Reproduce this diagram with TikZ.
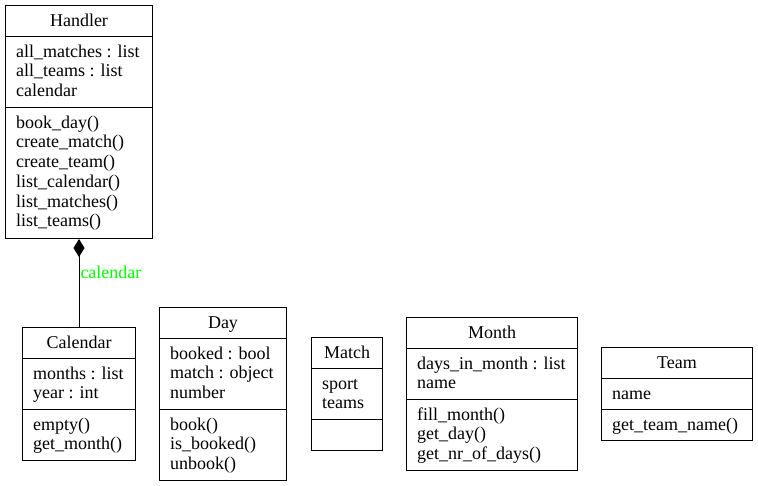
\documentclass[tikz,border=0pt]{standalone}
\usepackage{fontspec}
\setmainfont{Liberation Serif}
\usetikzlibrary{arrows.meta}
\definecolor{lblgreen}{HTML}{00FF00}
\tikzset{
  classbox/.style={draw, line width=1pt, inner sep=0pt, anchor=north west},
  classtext/.style={inner sep=0pt, anchor=north west, align=left,
    font=\fontsize{18}{19.7}\selectfont},
  classtitle/.style={inner sep=0pt, anchor=base, font=\fontsize{18}{20}\selectfont},
  sepline/.style={line width=1pt},
  assoc/.style={line width=1pt},
  assoclabel/.style={inner sep=1pt, anchor=west, text=lblgreen, font=\fontsize{18}{20}\selectfont}
}
% #1 name, #2 x, #3 y, #4 width, #5 title, #6 attrs, #7 n attrs, #8 methods, #9 n methods
\newcommand\umlclass[9]{%
  \pgfmathsetmacro\clsHa{max(20*#7+11,31)}%
  \pgfmathsetmacro\clsHm{max(20*#9+11,31)}%
  \pgfmathsetmacro\clsH{31+\clsHa+\clsHm}%
  \pgfmathsetmacro\clsSb{31+\clsHa}%
  \node[classbox, minimum width=#4pt, minimum height=\clsH pt] (#1) at (#2,#3) {};
  \node[classtitle] (#1-title) at ([yshift=-21.5pt]#1.north) {#5};
  \draw[sepline] ([yshift=-31pt]#1.north west) -- ([yshift=-31pt]#1.north east);
  \draw[sepline] ([yshift=-\clsSb pt]#1.north west) -- ([yshift=-\clsSb pt]#1.north east);
  \node[classtext] (#1-attr) at ([xshift=11pt,yshift=-38pt]#1.north west) {\rule{0pt}{14pt}#6};
  \node[classtext] (#1-meth) at ([xshift=11pt,yshift=-\clsSb pt-7pt]#1.north west) {\rule{0pt}{14pt}#8};
}
\begin{document}
\begin{tikzpicture}[x=1pt,y=-1pt]
\useasboundingbox (0,0) rectangle (758,485);
\umlclass{handler}{5}{5}{147}{Handler}%
  {all\_matches : list\\all\_teams : list\\calendar}{3}%
  {book\_day()\\create\_match()\\create\_team()\\list\_calendar()\\list\_matches()\\list\_teams()}{6}
\umlclass{calendar}{22}{327}{113}{Calendar}%
  {months : list\\year : int}{2}%
  {empty()\\get\_month()}{2}
\umlclass{day}{159}{307}{127}{Day}%
  {booked : bool\\match : object\\number}{3}%
  {book()\\is\_booked()\\unbook()}{3}
\umlclass{match}{311}{337}{71}{Match}%
  {sport\\teams}{2}%
  {}{0}
\umlclass{month}{406}{317}{171}{Month}%
  {days\_in\_month : list\\name}{2}%
  {fill\_month()\\get\_day()\\get\_nr\_of\_days()}{3}
\umlclass{team}{601}{347}{151}{Team}%
  {name}{1}%
  {get\_team\_name()}{1}
\draw[assoc, {Diamond[length=18pt,width=11pt]}-] (handler.south) -- (calendar.north)
  node[assoclabel, pos=0.38] (callabel) {calendar};
\end{tikzpicture}
\end{document}
